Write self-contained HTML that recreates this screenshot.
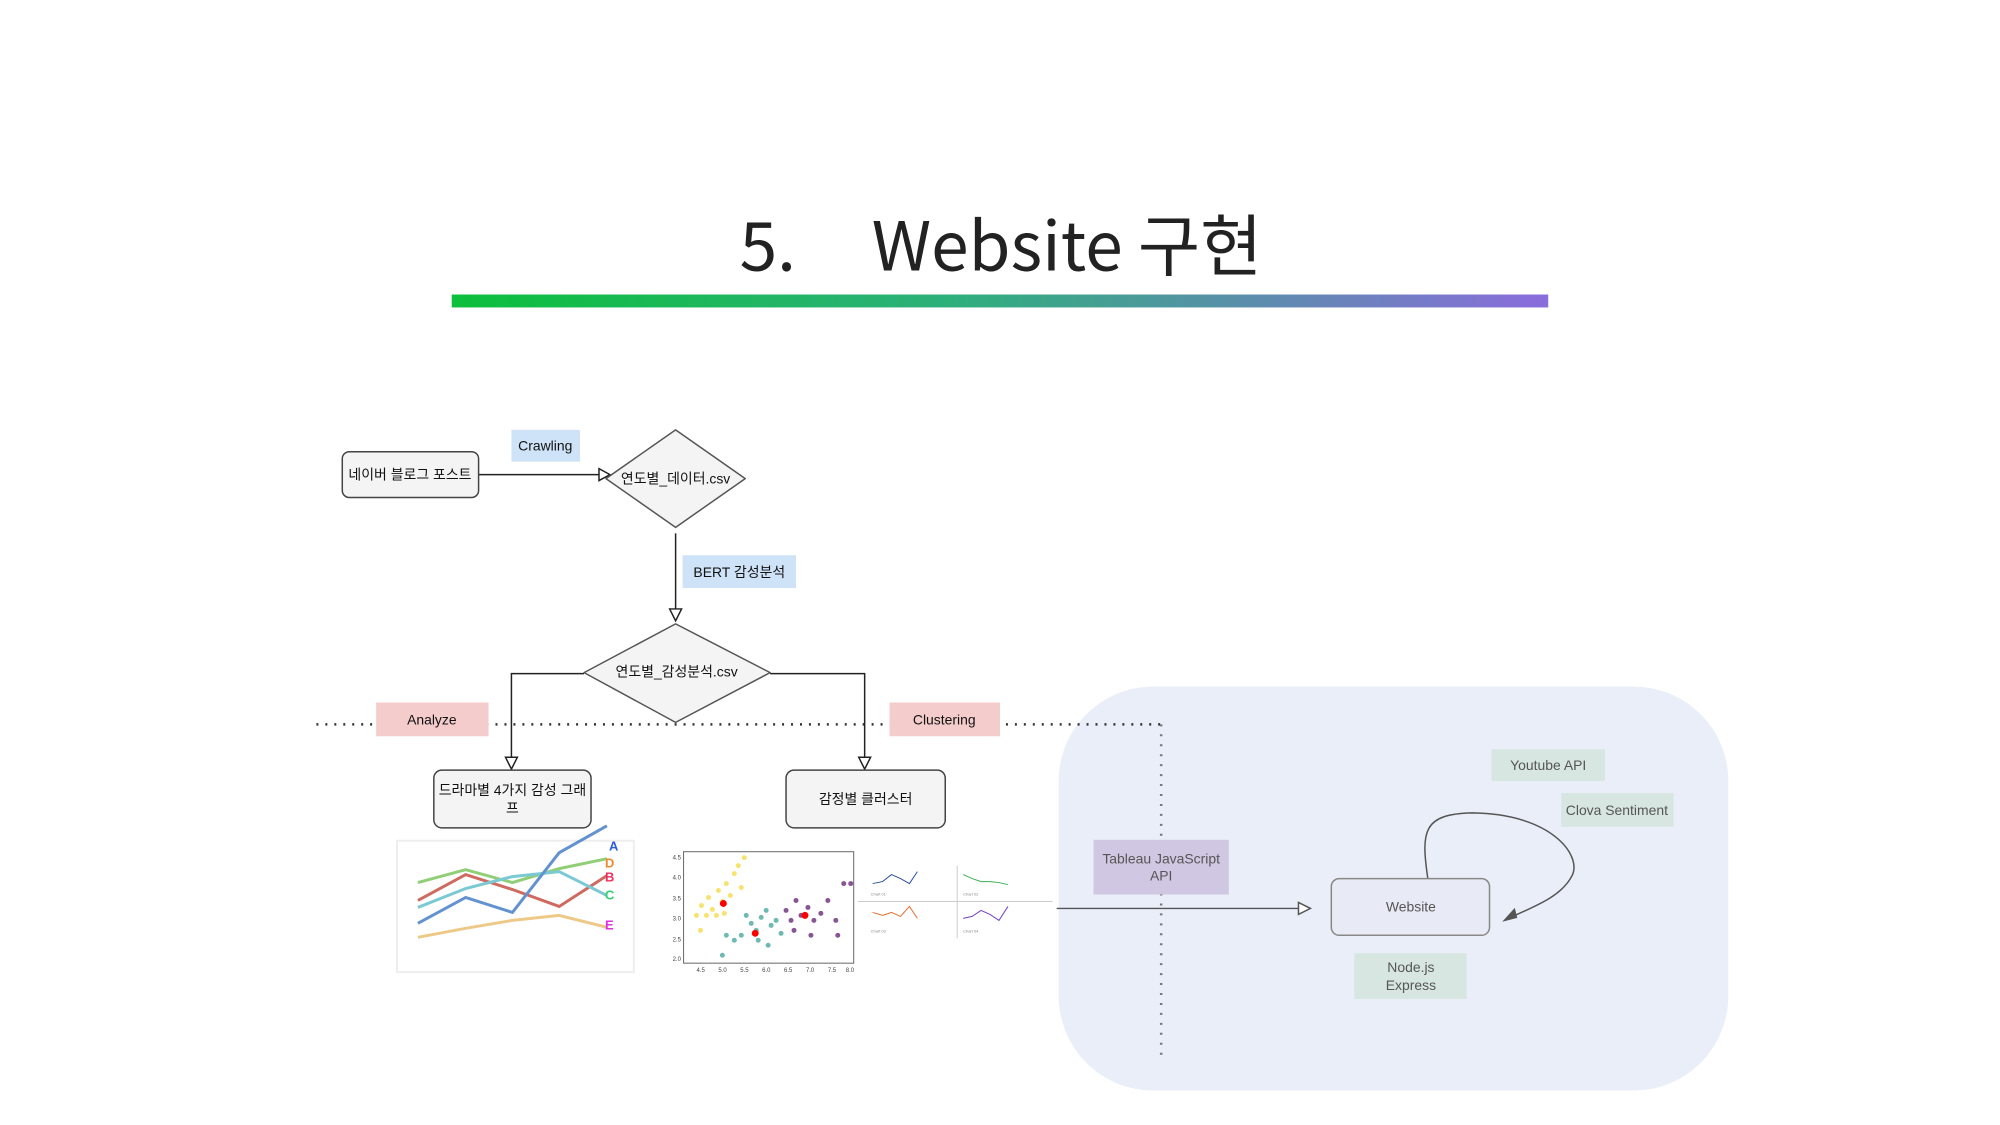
<!DOCTYPE html>
<html><head><meta charset="utf-8"><style>
html,body{margin:0;padding:0;background:#fff;}
svg{display:block;font-family:"Liberation Sans","Noto Sans CJK KR",sans-serif;}
</style></head><body>
<svg width="2000" height="1125" viewBox="0 0 2000 1125" xmlns="http://www.w3.org/2000/svg">
<defs>
<linearGradient id="g" x1="0" x2="1" y1="0" y2="0"><stop offset="0" stop-color="#0cbf3c"/><stop offset="0.45" stop-color="#2cb07a"/><stop offset="1" stop-color="#8a6cdc"/></linearGradient>
</defs>
<g transform="scale(0.995)">
<text x="1006" y="272" text-anchor="middle" font-size="68" fill="#222" font-family="'Noto Sans CJK KR','Liberation Sans',sans-serif" xml:space="preserve">5.     Website 구현</text>
<rect x="454" y="296" width="1102" height="13" fill="url(#g)"/>

<rect x="1064" y="690" width="673" height="406" rx="95" fill="#eaeef8"/>

<line x1="318" y1="728" x2="1167" y2="728" stroke="#333" stroke-width="2.5" stroke-dasharray="2 7"/>
<line x1="1167" y1="728" x2="1167" y2="1061" stroke="#777" stroke-width="2.5" stroke-dasharray="2 8"/>

<g stroke="#222" stroke-width="1.5" fill="none">
<line x1="481" y1="477" x2="602" y2="477"/>
<path d="M602,471 L613,477 L602,483 Z" fill="#fff"/>
<line x1="679" y1="536" x2="679" y2="612"/>
<path d="M673,612 L679,624 L685,612 Z" fill="#fff"/>
<polyline points="587,677 514,677 514,761"/>
<path d="M508,761 L514,773 L520,761 Z" fill="#fff"/>
<polyline points="774,677 869,677 869,761"/>
<path d="M863,761 L869,773 L875,761 Z" fill="#fff"/>
</g>
<g stroke="#555" stroke-width="1.5" fill="none">
<line x1="1062" y1="913" x2="1305" y2="913"/>
<path d="M1305,907 L1317,913 L1305,919 Z" fill="#fff"/>
<path d="M1435,883 C1428,835 1430,818 1480,817 C1560,818 1590,860 1580,880 C1570,900 1545,910 1518,922"/>
<path d="M1512,925 L1522,914 L1524,922 Z" fill="#555"/>
</g>

<rect x="344" y="454" width="137" height="46" rx="7" fill="#f4f4f4" stroke="#444" stroke-width="1.5"/>
<text x="412" y="482" text-anchor="middle" font-size="14" fill="#111">네이버 블로그 포스트</text>
<path d="M679,432 L749,481 L679,530 L609,481 Z" fill="#f4f4f4" stroke="#555" stroke-width="1.5" stroke-linejoin="round"/>
<text x="679" y="486" text-anchor="middle" font-size="14" fill="#111">연도별_데이터.csv</text>
<path d="M679,627 L774,676 L679,726 L587,676 Z" fill="#f4f4f4" stroke="#555" stroke-width="1.5" stroke-linejoin="round"/>
<text x="680" y="680" text-anchor="middle" font-size="14" fill="#111">연도별_감성분석.csv</text>
<rect x="436" y="774" width="158" height="58" rx="8" fill="#f4f4f4" stroke="#444" stroke-width="1.5"/>
<text x="515" y="799" text-anchor="middle" font-size="14" fill="#111">드라마별 4가지 감성 그래</text>
<text x="515" y="817" text-anchor="middle" font-size="14" fill="#111">프</text>
<rect x="790" y="774" width="160" height="58" rx="8" fill="#f4f4f4" stroke="#444" stroke-width="1.5"/>
<text x="870" y="808" text-anchor="middle" font-size="14" fill="#111">감정별 클러스터</text>

<rect x="514" y="432" width="69" height="32" fill="#cfe3f8"/>
<text x="548" y="453" text-anchor="middle" font-size="14" fill="#111">Crawling</text>
<rect x="686" y="558" width="114" height="33" fill="#cfe3f8"/>
<text x="743" y="580" text-anchor="middle" font-size="14" fill="#111">BERT 감성분석</text>
<rect x="378" y="706" width="113" height="34" fill="#f5cccc"/>
<text x="434" y="728" text-anchor="middle" font-size="14" fill="#111">Analyze</text>
<rect x="894" y="706" width="111" height="34" fill="#f5cccc"/>
<text x="949" y="728" text-anchor="middle" font-size="14" fill="#111">Clustering</text>

<rect x="1099" y="844" width="136" height="55" fill="#d0c8e2"/>
<text x="1167" y="868" text-anchor="middle" font-size="14" fill="#555">Tableau JavaScript</text>
<text x="1167" y="885" text-anchor="middle" font-size="14" fill="#555">API</text>
<rect x="1338" y="883" width="159" height="57" rx="8" fill="#e8ebf5" stroke="#888" stroke-width="1.5"/>
<text x="1418" y="916" text-anchor="middle" font-size="14" fill="#555">Website</text>
<rect x="1499" y="753" width="114" height="32" fill="#d8e6e2"/>
<text x="1556" y="774" text-anchor="middle" font-size="14" fill="#555">Youtube API</text>
<rect x="1569" y="797" width="113" height="34" fill="#d8e6e2"/>
<text x="1625" y="819" text-anchor="middle" font-size="14" fill="#555">Clova Sentiment</text>
<rect x="1361" y="958" width="113" height="46" fill="#d8e6e2"/>
<text x="1418" y="977" text-anchor="middle" font-size="14" fill="#555">Node.js</text>
<text x="1418" y="995" text-anchor="middle" font-size="14" fill="#555">Express</text>

<rect x="399" y="845" width="238" height="132" fill="#fff" stroke="#eee" stroke-width="2"/>
<g fill="none" stroke-width="3" opacity="0.75">
<polyline points="420,887 468,874 515,887 562,873 610,863" stroke="#6cc04a"/>
<polyline points="420,905 468,879 515,894 562,911 610,880" stroke="#c0392b"/>
<polyline points="420,912 468,893 515,881 562,876 610,900" stroke="#4fb8c4"/>
<polyline points="420,928 468,902 515,917 562,857 610,830" stroke="#2f6ec2"/>
<polyline points="420,942 468,933 515,925 562,920 610,932" stroke="#e8b860"/>
</g>
<text x="612" y="855" font-size="13" font-weight="bold" fill="#2b5be0">A</text>
<text x="608" y="872" font-size="13" font-weight="bold" fill="#f08a30">D</text>
<text x="608" y="886" font-size="13" font-weight="bold" fill="#f03060">B</text>
<text x="608" y="904" font-size="13" font-weight="bold" fill="#30d070">C</text>
<text x="608" y="934" font-size="13" font-weight="bold" fill="#e030e0">E</text>

<rect x="687" y="856" width="171" height="112" fill="#fff" stroke="#666" stroke-width="1"/>
<g font-size="6" fill="#444">
<text x="676" y="864">4.5</text><text x="676" y="884">4.0</text><text x="676" y="905">3.5</text><text x="676" y="925">3.0</text><text x="676" y="946">2.5</text><text x="676" y="966">2.0</text>
<text x="700" y="977">4.5</text><text x="722" y="977">5.0</text><text x="744" y="977">5.5</text><text x="766" y="977">6.0</text><text x="788" y="977">6.5</text><text x="810" y="977">7.0</text><text x="832" y="977">7.5</text><text x="850" y="977">8.0</text>
</g>
<g fill="#f6dc4a" opacity="0.8">
<circle cx="700" cy="920" r="2.5"/><circle cx="705" cy="910" r="2.5"/><circle cx="712" cy="902" r="2.5"/><circle cx="716" cy="914" r="2.5"/><circle cx="722" cy="895" r="2.5"/><circle cx="726" cy="906" r="2.5"/><circle cx="730" cy="888" r="2.5"/><circle cx="734" cy="900" r="2.5"/><circle cx="738" cy="878" r="2.5"/><circle cx="742" cy="870" r="2.5"/><circle cx="745" cy="892" r="2.5"/><circle cx="720" cy="920" r="2.5"/><circle cx="710" cy="920" r="2.5"/><circle cx="704" cy="935" r="2.5"/><circle cx="748" cy="862" r="2.5"/><circle cx="728" cy="918" r="2.5"/>
</g>
<g fill="#4aa8a0" opacity="0.8">
<circle cx="750" cy="920" r="2.5"/><circle cx="755" cy="928" r="2.5"/><circle cx="760" cy="935" r="2.5"/><circle cx="765" cy="922" r="2.5"/><circle cx="770" cy="915" r="2.5"/><circle cx="775" cy="930" r="2.5"/><circle cx="745" cy="940" r="2.5"/><circle cx="738" cy="945" r="2.5"/><circle cx="780" cy="925" r="2.5"/><circle cx="772" cy="950" r="2.5"/><circle cx="726" cy="960" r="2.5"/><circle cx="785" cy="938" r="2.5"/><circle cx="762" cy="945" r="2.5"/><circle cx="730" cy="940" r="2.5"/>
</g>
<g fill="#6a2a7a" opacity="0.8">
<circle cx="790" cy="915" r="2.5"/><circle cx="795" cy="925" r="2.5"/><circle cx="800" cy="905" r="2.5"/><circle cx="805" cy="920" r="2.5"/><circle cx="812" cy="912" r="2.5"/><circle cx="818" cy="925" r="2.5"/><circle cx="825" cy="918" r="2.5"/><circle cx="832" cy="905" r="2.5"/><circle cx="840" cy="925" r="2.5"/><circle cx="848" cy="888" r="2.5"/><circle cx="855" cy="888" r="2.5"/><circle cx="798" cy="935" r="2.5"/><circle cx="815" cy="940" r="2.5"/><circle cx="842" cy="940" r="2.5"/>
</g>
<circle cx="727" cy="908" r="3.5" fill="red"/><circle cx="759" cy="938" r="3.5" fill="red"/><circle cx="809" cy="920" r="3.5" fill="red"/>

<g fill="none" stroke-width="1">
<polyline points="877,888 887,886 896,879 905,883 914,888 922,876" stroke="#2a50a0"/>
<polyline points="968,879 977,883 986,886 995,886 1004,887 1013,889" stroke="#3ab050"/>
<polyline points="877,917 887,920 896,917 905,921 914,911 922,923" stroke="#e07030"/>
<polyline points="968,923 977,921 986,915 995,919 1004,925 1013,911" stroke="#7040c0"/>
<line x1="862" y1="906" x2="1058" y2="906" stroke="#ccc"/>
<line x1="962" y1="870" x2="962" y2="943" stroke="#ccc"/>
</g>
<g font-size="4" fill="#888"><text x="875" y="900">Chart 01</text><text x="968" y="900">Chart 02</text><text x="875" y="937">Chart 03</text><text x="968" y="937">Chart 04</text></g>
</g>
</svg>
</body></html>
